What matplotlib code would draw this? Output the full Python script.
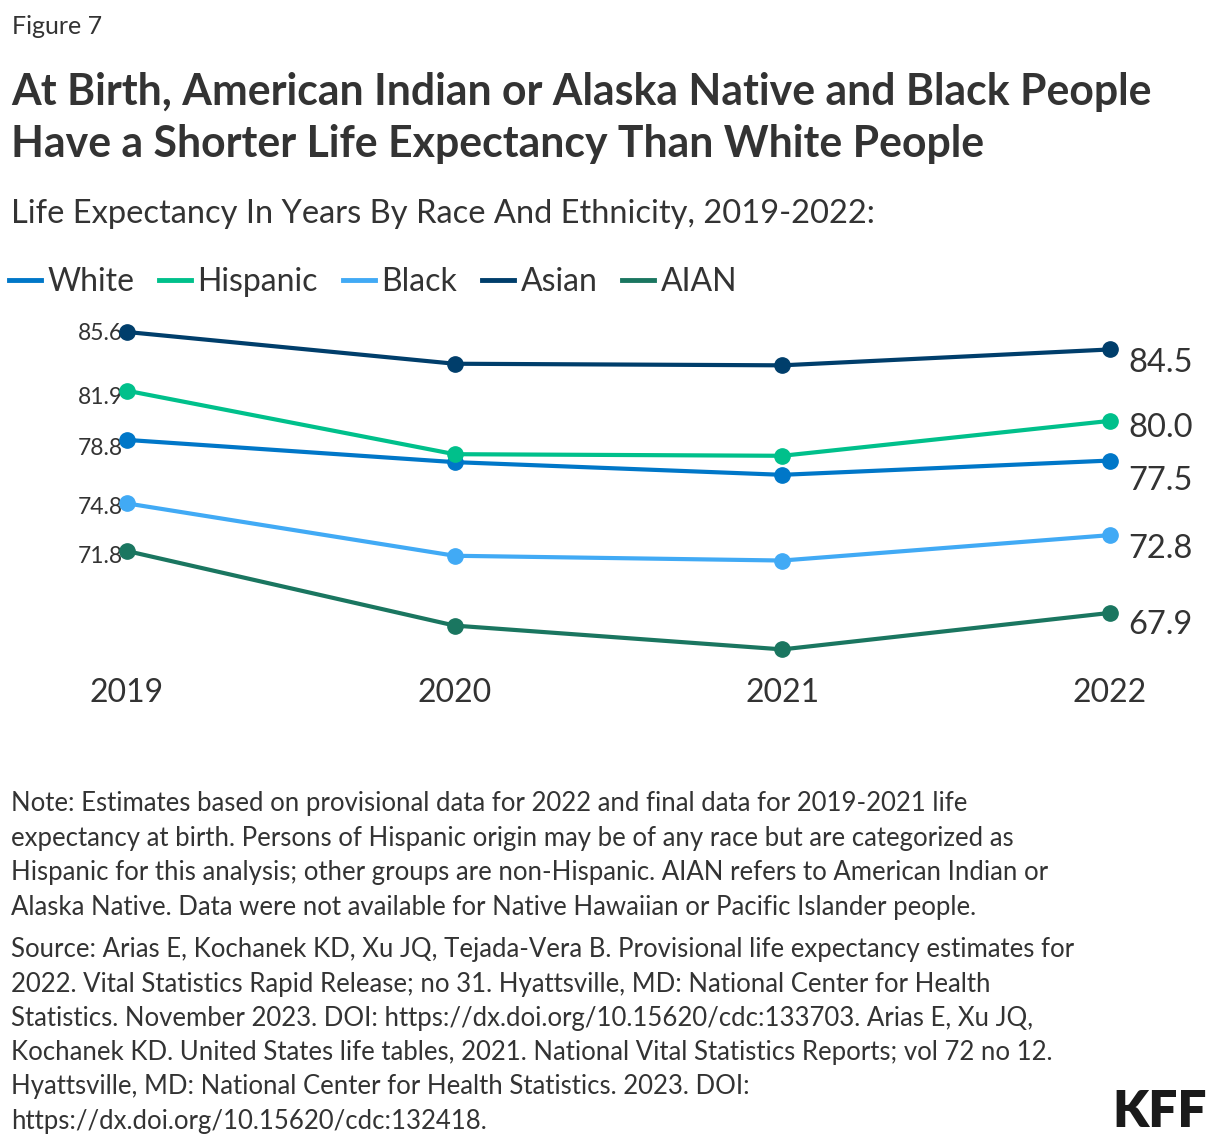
import matplotlib.pyplot as plt
from matplotlib.lines import Line2D

plt.rcParams['font.family'] = ['Lato', 'DejaVu Sans']

# data
years = [2019, 2020, 2021, 2022]
white = [78.8, 77.4, 76.6, 77.5]
hispanic = [81.9, 77.9, 77.8, 80.0]
black = [74.8, 71.5, 71.2, 72.8]
asian = [85.6, 83.6, 83.5, 84.5]
aian = [71.8, 67.1, 65.6, 67.9]

names = ['White', 'Hispanic', 'Black', 'Asian', 'AIAN']
series = [white, hispanic, black, asian, aian]
colors = ['#0077c8', '#00c08b', '#41aaf5', '#003e6b', '#1a7660']
# label nudges (points) so labels don't collide
start_dy = [-6, -5, -3, -1, -4]
end_dy = [-15, -5, -10, -10, -9]

W, H = 1220, 1146
txt = '#333333'

fig = plt.figure(figsize=(W / 100, H / 100), dpi=100)

# plot area: x from 2019 at px 127 to 2022 at px 1110, ylim 64..87
y0, y1 = 64, 87
top_px = 332 - (y1 - 85.6) * 15.87
bot_px = 332 + (85.6 - y0) * 15.87
ax = fig.add_axes([127 / W, 1 - bot_px / H, (1110 - 127) / W, (bot_px - top_px) / H])
ax.set_xlim(2019, 2022)
ax.set_ylim(y0, y1)
ax.axis('off')

for vals, c, dy in zip(series, colors, start_dy):
    ax.plot(years, vals, color=c, lw=3, marker='o', ms=11, clip_on=False, zorder=3)
    ax.annotate(f'{vals[0]:.1f}', (2019, vals[0]), xytext=(-3, dy),
                textcoords='offset points', ha='right', va='center',
                fontsize=16.5, color=txt, zorder=2)

for vals, dy in zip(series, end_dy):
    ax.annotate(f'{vals[-1]:.1f}', (2022, vals[-1]), xytext=(13, dy),
                textcoords='offset points', ha='left', va='center',
                fontsize=23.5, color=txt)

for yr in years:
    ax.annotate(str(yr), (yr, y0), xytext=(0, -13), textcoords='offset points',
                ha='center', va='center', fontsize=23, color=txt,
                annotation_clip=False)

# header
fig.text(12 / W, 1 - 27 / H, 'Figure 7', fontsize=18, color=txt, va='center')
fig.text(11 / W, 1 - 92 / H,
         'At Birth, American Indian or Alaska Native and Black People',
         fontsize=30.8, fontweight='bold', color=txt, va='center')
fig.text(11 / W, 1 - 144 / H,
         'Have a Shorter Life Expectancy Than White People',
         fontsize=30.8, fontweight='bold', color=txt, va='center')
fig.text(11 / W, 1 - 214 / H,
         'Life Expectancy In Years By Race And Ethnicity, 2019-2022:',
         fontsize=23.5, color=txt, va='center')

handles = [Line2D([], [], color=c, lw=3.5) for c in colors]
fig.legend(handles, names, loc='center left', bbox_to_anchor=(9 / W, 1 - 282 / H),
           ncol=5, frameon=False, fontsize=23, handlelength=1.0,
           handletextpad=0.2, columnspacing=0.78, borderpad=0, borderaxespad=0,
           labelcolor=txt)

note = ['Note: Estimates based on provisional data for 2022 and final data for 2019-2021 life',
        'expectancy at birth. Persons of Hispanic origin may be of any race but are categorized as',
        'Hispanic for this analysis; other groups are non-Hispanic. AIAN refers to American Indian or',
        'Alaska Native. Data were not available for Native Hawaiian or Pacific Islander people.']
source = ['Source: Arias E, Kochanek KD, Xu JQ, Tejada-Vera B. Provisional life expectancy estimates for',
          '2022. Vital Statistics Rapid Release; no 31. Hyattsville, MD: National Center for Health',
          'Statistics. November 2023. DOI: https://dx.doi.org/10.15620/cdc:133703. Arias E, Xu JQ,',
          'Kochanek KD. United States life tables, 2021. National Vital Statistics Reports; vol 72 no 12.',
          'Hyattsville, MD: National Center for Health Statistics. 2023. DOI:',
          'https://dx.doi.org/10.15620/cdc:132418.']
for i, line in enumerate(note):
    fig.text(11 / W, 1 - (804 + i * 34.4) / H, line, fontsize=18.5, color=txt, va='center')
for i, line in enumerate(source):
    fig.text(11 / W, 1 - (950 + i * 34.2) / H, line, fontsize=18.5, color=txt, va='center')

fig.text(1207 / W, 1 - 1112 / H, 'KFF', fontsize=37, fontweight='heavy',
         color='#1a1a1a', ha='right', va='center')

fig.savefig('out.png', dpi=100)
